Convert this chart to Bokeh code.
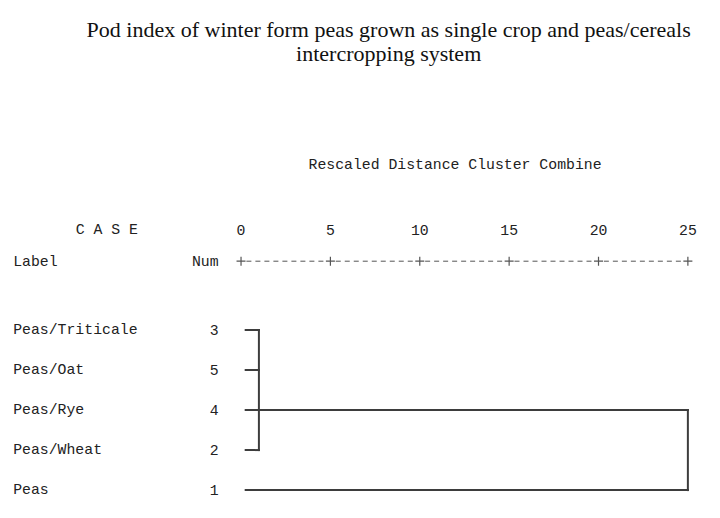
from bokeh.plotting import figure
from bokeh.models import Range1d
from bokeh.core.properties import value
from bokeh.embed import file_html
from bokeh.resources import INLINE

# ---------------- data ----------------
TITLE_LINES = ["Pod index of winter form peas grown as single crop and peas/cereals",
               "intercropping system"]
AXIS_TITLE = "Rescaled Distance Cluster Combine"
LABELS = ["Peas/Triticale", "Peas/Oat", "Peas/Rye", "Peas/Wheat", "Peas"]
NUMS = ["3", "5", "4", "2", "1"]
TICKS = [0, 5, 10, 15, 20, 25]
TICK_LABELS = ["0", "5", "10", "15", "20", "25"]
# merge 1: rows 0..3 joined at distance 1.0, drawn on from row 2
MERGE1_ROWS = [0, 1, 2, 3]
MERGE1_DIST = 1.0
MERGE1_REP_ROW = 2
# merge 2: cluster above (row 2) with Peas (row 4) at distance 25
MERGE2_ROWS = [2, 4]
MERGE2_DIST = 25.0

# ---------------- layout helpers ----------------
W, H = 704, 502
REF_W, REF_H = 720, 518   # layout designed on a 720x518 sheet, scaled into the figure
X0, K = 246.0, 18.28      # sheet pixel of distance 0, sheet pixels per unit
Y0, S = 340.0, 41.3       # sheet pixel of row 0, sheet pixels per row
LEAF_START = 0.26


def rx(px):
    return (px - X0) / K


def ry(py):
    return (py - Y0) / S


p = figure(width=W, height=H, output_backend="svg", toolbar_location=None, tools="",
           x_range=Range1d(rx(0), rx(REF_W)), y_range=Range1d(ry(REF_H), ry(0)),
           x_axis_location=None, y_axis_location=None, min_border=0)
p.outline_line_color = None
p.grid.visible = False
p.background_fill_color = "white"
p.border_fill_color = "white"

MONO = value("Liberation Mono")
SERIF = value("Liberation Serif")
TXT = "#222222"
LINE = "#3d3d3d"
FS = "14.8px"

# title
p.text(x=[rx(397)] * 2, y=[ry(30), ry(55)], text=TITLE_LINES, text_font=SERIF,
       text_font_size="22px", text_align="center", text_baseline="alphabetic",
       text_color="#111111")

# axis title
p.text(x=[rx(315)], y=[ry(170)], text=[AXIS_TITLE], text_font=MONO, text_font_size=FS,
       text_align="left", text_baseline="middle", text_color=TXT)

# header
p.text(x=[rx(77)], y=[ry(237)], text=["C A S E"], text_font=MONO, text_font_size=FS,
       text_align="left", text_baseline="middle", text_color=TXT)
p.text(x=TICKS, y=[ry(237)] * len(TICKS), text=TICK_LABELS, text_font=MONO,
       text_font_size=FS, text_align="center", text_baseline="middle", text_color=TXT)
p.text(x=[rx(13)], y=[ry(270)], text=["Label"], text_font=MONO, text_font_size=FS,
       text_align="left", text_baseline="middle", text_color=TXT)
p.text(x=[rx(223)], y=[ry(270)], text=["Num"], text_font=MONO, text_font_size=FS,
       text_align="right", text_baseline="middle", text_color=TXT)

# dashed scale line with + ticks
ay = ry(269)
p.segment(x0=[t + 0.3 for t in TICKS[:-1]], y0=[ay] * (len(TICKS) - 1),
          x1=[t + 4.8 for t in TICKS[:-1]], y1=[ay] * (len(TICKS) - 1),
          line_color="#555555", line_width=1, line_dash="5 4")
p.scatter(x=TICKS, y=[ay] * len(TICKS), marker="cross", size=9, line_color="#555555",
          line_width=1.2)

# row labels and numbers
rows = list(range(len(LABELS)))
p.text(x=[rx(13)] * len(rows), y=rows, text=LABELS, text_font=MONO, text_font_size=FS,
       text_align="left", text_baseline="middle", text_color=TXT)
p.text(x=[rx(223)] * len(rows), y=rows, text=NUMS, text_font=MONO, text_font_size=FS,
       text_align="right", text_baseline="middle", text_color=TXT)

# dendrogram
x0s, y0s, x1s, y1s = [], [], [], []
for r in MERGE1_ROWS:
    if r != MERGE1_REP_ROW:
        x0s.append(LEAF_START); x1s.append(MERGE1_DIST); y0s.append(r); y1s.append(r)
x0s.append(MERGE1_DIST); x1s.append(MERGE1_DIST)
y0s.append(min(MERGE1_ROWS)); y1s.append(max(MERGE1_ROWS))
# representative row line continues to merge 2
x0s.append(LEAF_START); x1s.append(MERGE2_DIST); y0s.append(MERGE1_REP_ROW); y1s.append(MERGE1_REP_ROW)
# Peas leaf
x0s.append(LEAF_START); x1s.append(MERGE2_DIST); y0s.append(MERGE2_ROWS[1]); y1s.append(MERGE2_ROWS[1])
# merge 2 vertical
x0s.append(MERGE2_DIST); x1s.append(MERGE2_DIST); y0s.append(MERGE2_ROWS[0]); y1s.append(MERGE2_ROWS[1])

p.segment(x0=x0s, y0=y0s, x1=x1s, y1=y1s, line_color=LINE, line_width=2, line_cap="square")

open("out.html", "w").write(file_html(p, INLINE))
